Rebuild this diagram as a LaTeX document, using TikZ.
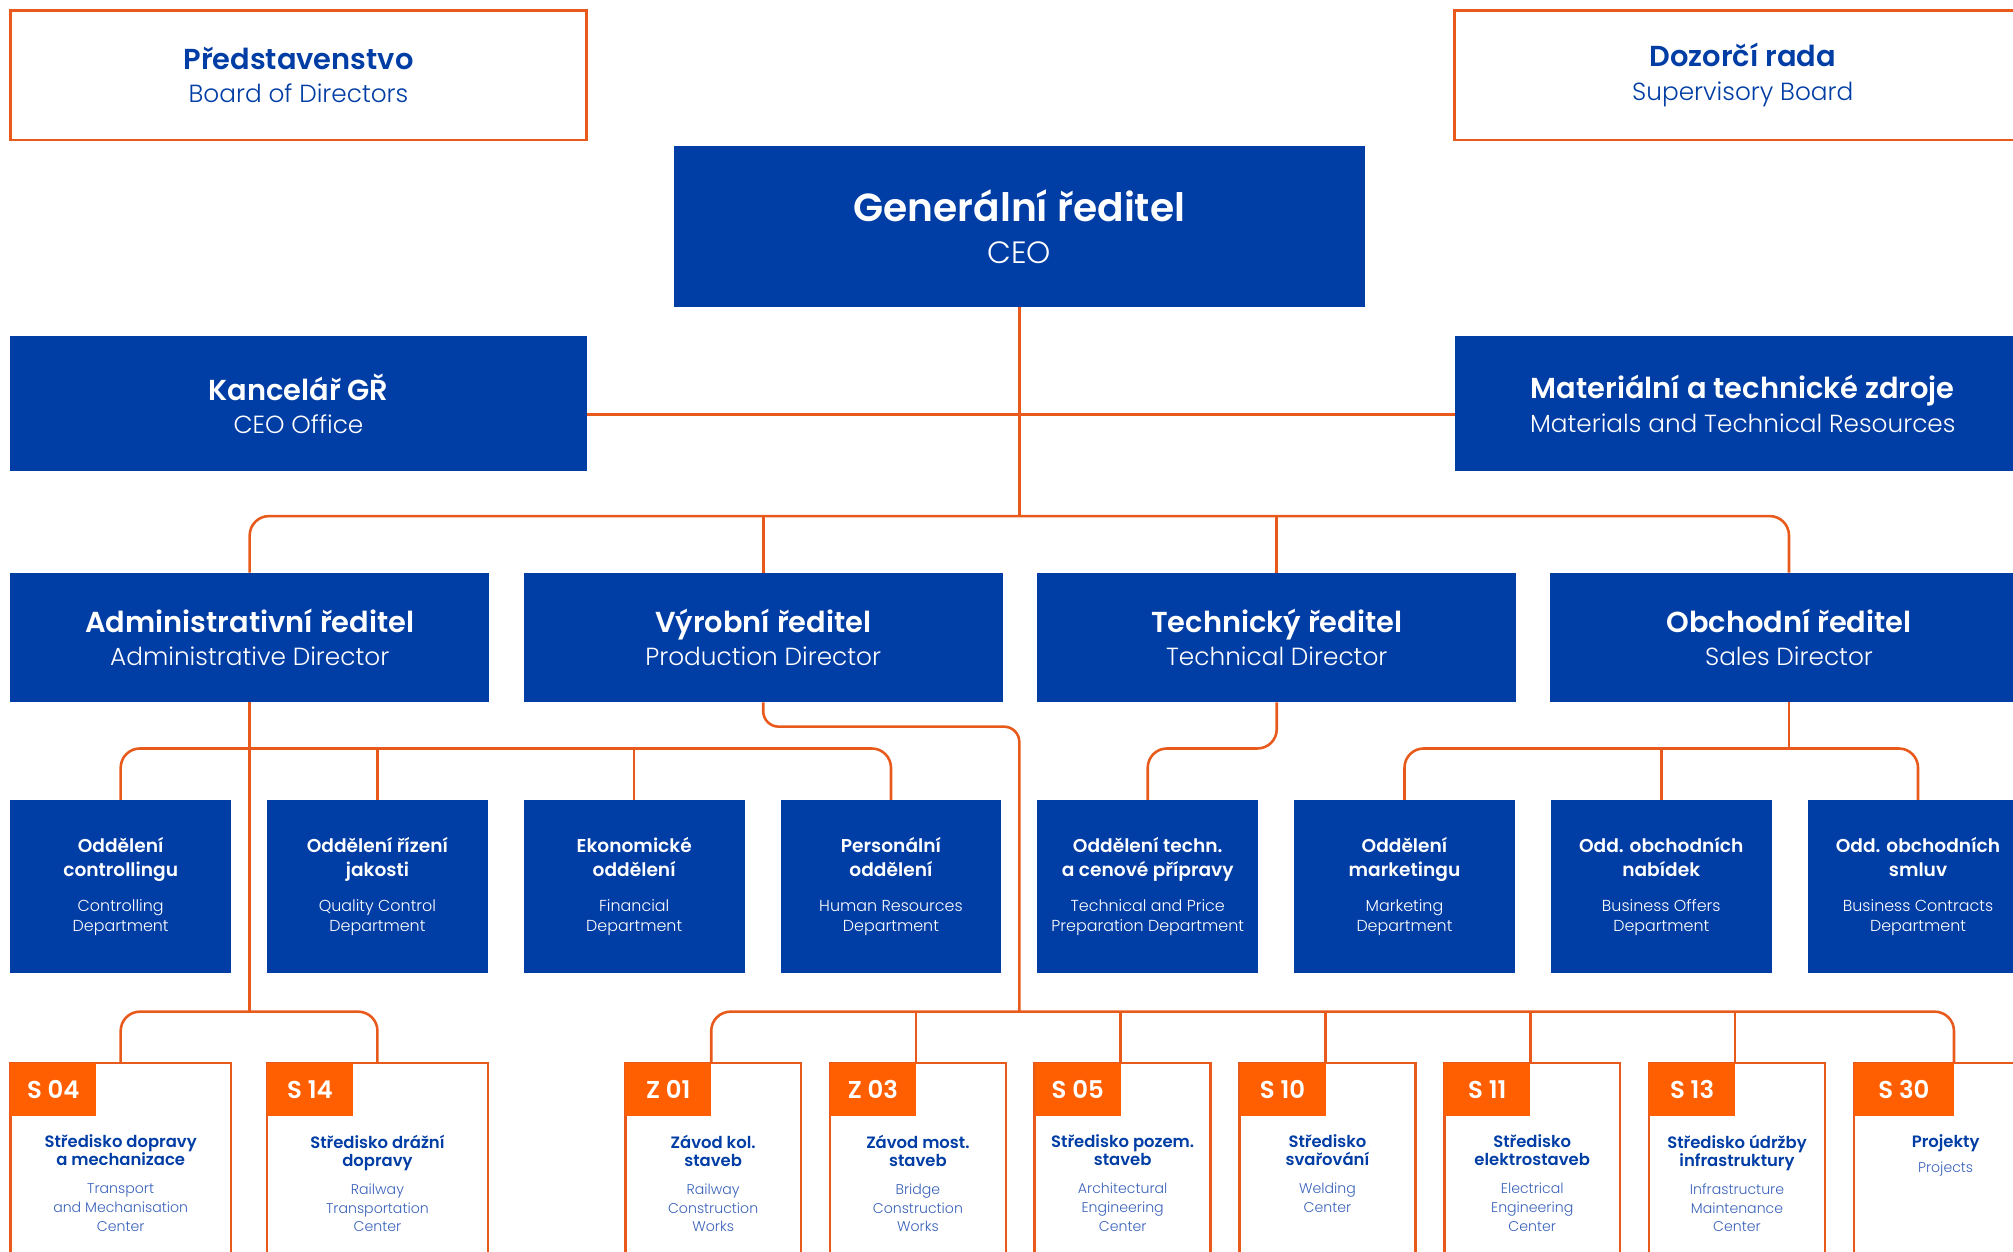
\documentclass[tikz,border=0pt]{standalone}
\usepackage{fontspec}
\setmainfont{Poppins}[BoldFont={* SemiBold}]
\newfontfamily\lightfont{Poppins Light}
\usetikzlibrary{positioning}

\definecolor{orgblue}{HTML}{003DA5}
\definecolor{subblue}{HTML}{3A62BA}
\definecolor{linkorange}{HTML}{E85A1C}
\definecolor{taborange}{HTML}{FF5F00}

\newcommand{\bigtitle}[1]{{\normalfont\bfseries\fontsize{22.5}{26}\selectfont #1}}
\newcommand{\ceotitle}[1]{{\normalfont\bfseries\fontsize{30.5}{32}\selectfont #1}}
\newcommand{\depttitle}[1]{{\normalfont\bfseries\fontsize{14.5}{16}\selectfont #1}}
\newcommand{\workstitle}[1]{{\normalfont\bfseries\fontsize{12.8}{14.5}\selectfont\color{orgblue}#1}}

\tikzset{
  box/.style={rectangle, inner sep=0pt, outer sep=0pt, align=center},
  board/.style={box, draw=linkorange, line width=2pt, fill=white, text=orgblue,
    minimum width=449pt, minimum height=101pt, anchor=north west,
    font=\lightfont\fontsize{19.3}{26}\selectfont},
  head/.style={box, fill=orgblue, text=white},
  big/.style={head, minimum width=449pt, minimum height=105pt,
    font=\lightfont\fontsize{19.3}{26}\selectfont},
  dir/.style={head, minimum width=373pt, minimum height=101pt,
    font=\lightfont\fontsize{19.3}{26}\selectfont},
  dept/.style={head, minimum width=172pt, minimum height=135pt,
    font=\lightfont\fontsize{12.4}{16}\selectfont},
  works/.style={box, draw=linkorange, line width=2pt, fill=white,
    minimum width=137pt, minimum height=220pt, anchor=north west},
  tabbox/.style={box, fill=taborange, text=white, minimum width=67pt,
    minimum height=41pt, anchor=north west,
    font=\bfseries\fontsize{19}{19}\selectfont},
  wtext/.style={box, text=subblue, font=\lightfont\fontsize{11}{14.5}\selectfont},
  link/.style={draw=linkorange, line width=2pt},
}

\begin{document}
\begin{tikzpicture}[x=1pt, y=-1pt]
	\useasboundingbox (0,0) rectangle (1568,974.5);
	\clip (0,0) rectangle (1568,974.5);

	% boards and management
	\node[board] (bod) at (8,8) {\bigtitle{Představenstvo}\\Board of Directors};
	\node[board] (sup) at (1133,8) {\bigtitle{Dozorčí rada}\\Supervisory Board};
	\node[head, anchor=north west, minimum width=538pt, minimum height=125pt,
		font=\lightfont\fontsize{24}{32}\selectfont] (ceo) at (525,114) {\ceotitle{Generální ředitel}\\[1pt]CEO};
	\node[big, anchor=north west] (kanc) at (8,262) {\bigtitle{Kancelář GŘ}\\CEO Office};
	\node[big, right=676pt of kanc] (mat) {\bigtitle{Materiální a technické zdroje}\\Materials and Technical Resources};

	% directors
	\node[dir, anchor=north west] (adm) at (8,446) {\bigtitle{Administrativní ředitel}\\Administrative Director};
	\node[dir, right=27pt of adm] (vyr) {\bigtitle{Výrobní ředitel}\\Production Director};
	\node[dir, right=27pt of vyr] (tech) {\bigtitle{Technický ředitel}\\Technical Director};
	\node[dir, right=26pt of tech] (obch) {\bigtitle{Obchodní ředitel}\\Sales Director};

	% departments
	\node[dept, anchor=north west] (ctrl) at (8,623) {\depttitle{Oddělení}\\[3pt]\depttitle{controllingu}\\[11pt]Controlling\\Department};
	\node[dept, right=28pt of ctrl] (qual) {\depttitle{Oddělení řízení}\\[3pt]\depttitle{jakosti}\\[11pt]Quality Control\\Department};
	\node[dept, right=28pt of qual] (econ) {\depttitle{Ekonomické}\\[3pt]\depttitle{oddělení}\\[11pt]Financial\\Department};
	\node[dept, right=28pt of econ] (pers) {\depttitle{Personální}\\[3pt]\depttitle{oddělení}\\[11pt]Human Resources\\Department};
	\node[dept, right=28pt of pers] (tpd) {\depttitle{Oddělení techn.}\\[3pt]\depttitle{a cenové přípravy}\\[11pt]Technical and Price\\Preparation Department};
	\node[dept, right=28pt of tpd] (mkt) {\depttitle{Oddělení}\\[3pt]\depttitle{marketingu}\\[11pt]Marketing\\Department};
	\node[dept, right=28pt of mkt] (nab) {\depttitle{Odd. obchodních}\\[3pt]\depttitle{nabídek}\\[11pt]Business Offers\\Department};
	\node[dept, right=28pt of nab] (smluv) {\depttitle{Odd. obchodních}\\[3pt]\depttitle{smluv}\\[11pt]Business Contracts\\Department};

	% centres and works
	\node[works, minimum width=172pt] (s04) at (8,828) {};
	\node[works, minimum width=172pt, right=28pt of s04] (s14) {};
	\node[works] (z01) at (487,828) {};
	\node[works, right=22.5pt of z01] (z03) {};
	\node[works, right=22.5pt of z03] (s05) {};
	\node[works, right=22.5pt of s05] (s10) {};
	\node[works, right=22.5pt of s10] (s11) {};
	\node[works, right=22.5pt of s11] (s13) {};
	\node[works, right=22.5pt of s13] (s30) {};

	\node[tabbox] (s04t) at (s04.north west) {S 04};
	\node[tabbox] (s14t) at (s14.north west) {S 14};
	\node[tabbox] (z01t) at (z01.north west) {Z 01};
	\node[tabbox] (z03t) at (z03.north west) {Z 03};
	\node[tabbox] (s05t) at (s05.north west) {S 05};
	\node[tabbox] (s10t) at (s10.north west) {S 10};
	\node[tabbox] (s11t) at (s11.north west) {S 11};
	\node[tabbox] (s13t) at (s13.north west) {S 13};
	\node[tabbox, minimum width=78pt] (s30t) at (s30.north west) {S 30};

	\node[wtext, below=56pt of s04.north] (s04x) {\workstitle{Středisko dopravy}\\[-0.5pt]\workstitle{a mechanizace}\\[7.5pt]Transport\\and Mechanisation\\Center};
	\node[wtext, below=56pt of s14.north] (s14x) {\workstitle{Středisko drážní}\\[-0.5pt]\workstitle{dopravy}\\[7.5pt]Railway\\Transportation\\Center};
	\node[wtext, below=56pt of z01.north] (z01x) {\workstitle{Závod kol.}\\[-0.5pt]\workstitle{staveb}\\[7.5pt]Railway\\Construction\\Works};
	\node[wtext, below=56pt of z03.north] (z03x) {\workstitle{Závod most.}\\[-0.5pt]\workstitle{staveb}\\[7.5pt]Bridge\\Construction\\Works};
	\node[wtext, below=56pt of s05.north] (s05x) {\workstitle{Středisko pozem.}\\[-0.5pt]\workstitle{staveb}\\[7.5pt]Architectural\\Engineering\\Center};
	\node[wtext, below=56pt of s10.north] (s10x) {\workstitle{Středisko}\\[-0.5pt]\workstitle{svařování}\\[7.5pt]Welding\\Center};
	\node[wtext, below=56pt of s11.north] (s11x) {\workstitle{Středisko}\\[-0.5pt]\workstitle{elektrostaveb}\\[7.5pt]Electrical\\Engineering\\Center};
	\node[wtext, below=56pt of s13.north] (s13x) {\workstitle{Středisko údržby}\\[-0.5pt]\workstitle{infrastruktury}\\[7.5pt]Infrastructure\\Maintenance\\Center};
	\node[wtext, below=56pt of s30.north, xshift=3pt] (s30x) {\workstitle{Projekty}\\[5pt]Projects};

	% bus points
	\coordinate (sidebus) at (794,323);
	\coordinate (dirbus) at (794,402);
	\coordinate (admbus) at (194.5,583);
	\coordinate (prodturn) at (794,566);
	\coordinate (prodbus) at (794,788);
	\coordinate (transbus) at (194.5,788);

	% connectors
	\draw[link] (ceo.south) -- (dirbus);
	\draw[link] (kanc.east |- sidebus) -- (mat.west |- sidebus);
	\draw[link, rounded corners=15pt] (adm.north) |- (dirbus) -| (obch.north);
	\draw[link] (vyr.north) -- (vyr.north |- dirbus);
	\draw[link] (tech.north) -- (tech.north |- dirbus);

	\draw[link, rounded corners=15pt] (ctrl.north) |- (admbus) -| (pers.north);
	\draw[link] (qual.north) -- (qual.north |- admbus);
	\draw[link] (econ.north) -- (econ.north |- admbus);
	\draw[link] (adm.south) -- (transbus);
	\draw[link, rounded corners=15pt] (s04.north) |- (transbus) -| (s14.north);

	\draw[link, rounded corners=12pt] (vyr.south) |- (prodturn) -- (prodbus);
	\draw[link, rounded corners=15pt] (z01t.north east) |- (prodbus) -| (s30t.north east);
	\draw[link] (z03t.north east) -- (z03t.north east |- prodbus);
	\draw[link] (s05t.north east) -- (s05t.north east |- prodbus);
	\draw[link] (s10t.north east) -- (s10t.north east |- prodbus);
	\draw[link] (s11t.north east) -- (s11t.north east |- prodbus);
	\draw[link] (s13t.north east) -- (s13t.north east |- prodbus);

	\draw[link, rounded corners=15pt] (tech.south) |- (tpd.north |- admbus) -- (tpd.north);

	\draw[link] (obch.south) -- (obch.south |- admbus);
	\draw[link, rounded corners=15pt] (mkt.north) |- (obch.south |- admbus) -| (smluv.north);
	\draw[link] (nab.north) -- (nab.north |- admbus);
\end{tikzpicture}
\end{document}
